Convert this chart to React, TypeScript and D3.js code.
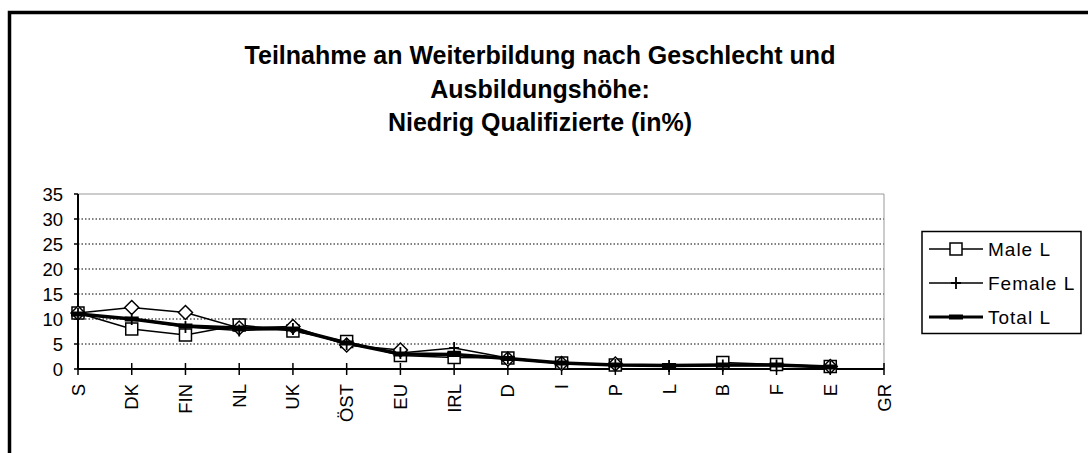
import React from 'react';
import * as d3 from 'd3';

const width = 1088;
const height = 453;

const categories = ['S', 'DK', 'FIN', 'NL', 'UK', 'ÖST', 'EU', 'IRL', 'D', 'I', 'P', 'L', 'B', 'F', 'E', 'GR'];
const maleL = [11.2, 8.0, 6.8, 8.8, 7.6, 5.5, 2.7, 2.3, 2.2, 1.2, 0.8, null, 1.3, 0.9, 0.5, null];
const femaleL = [11.0, 10.0, 8.4, 7.7, 8.0, 5.0, 3.2, 4.2, 2.2, 1.2, 0.8, 0.6, 0.7, 0.7, 0.4, null];
const totalL = [11.0, 10.0, 8.6, 8.2, 8.0, 5.2, 3.0, 2.9, 2.1, 1.2, 0.8, 0.7, 0.8, 0.8, 0.4, null];
// diamond series, no legend entry in the original
const otherL = [11.2, 12.3, 11.3, 8.2, 8.5, 4.8, 3.8, null, 2.0, 1.1, 1.0, null, null, null, 0.5, null];
const yTicks = [0, 5, 10, 15, 20, 25, 30, 35];
const titleLines = ['Teilnahme an Weiterbildung nach Geschlecht und', 'Ausbildungshöhe:', 'Niedrig Qualifizierte (in%)'];

const font = 'Liberation Sans, Arial, sans-serif';

const x = d3.scalePoint<string>().domain(categories).range([78, 884]);
const y = d3.scaleLinear().domain([0, 35]).range([369, 194]);

const lineFor = (vals: (number | null)[]) =>
  d3.line<number | null>()
    .defined((d) => d != null)
    .x((_, i) => x(categories[i]) as number)
    .y((d) => y(d as number))(vals) || '';

const Square = ({ cx, cy }: { cx: number; cy: number }) => (
  <rect x={cx - 6} y={cy - 6} width={12} height={12} fill="#fff" stroke="#000" strokeWidth={1.5} />
);
const Plus = ({ cx, cy }: { cx: number; cy: number }) => (
  <path d={`M${cx},${cy - 6}V${cy + 6}M${cx - 5},${cy}H${cx + 5}`} stroke="#000" strokeWidth={1.8} />
);
const Diamond = ({ cx, cy }: { cx: number; cy: number }) => (
  <path d={`M${cx},${cy - 7}L${cx + 7},${cy}L${cx},${cy + 7}L${cx - 7},${cy}Z`} fill="#fff" stroke="#000" strokeWidth={1.5} />
);
const Dash = ({ cx, cy }: { cx: number; cy: number }) => (
  <rect x={cx - 7} y={cy - 2.5} width={14} height={5} fill="#000" />
);

const markers = (vals: (number | null)[], M: any, key: string) =>
  vals.map((d, i) => (d == null ? null : <M key={key + i} cx={x(categories[i]) as number} cy={y(d)} />));

const legendItems = [
  { name: 'Male L', M: Square, w: 1.5 },
  { name: 'Female L', M: Plus, w: 1.5 },
  { name: 'Total L', M: Dash, w: 3 },
];

export default function App() {
  return (
    <svg width={width} height={height} style={{ position: 'absolute', left: 0, top: 0, background: '#fff' }} fontFamily={font}>
      <rect width={width} height={height} fill="#fff" />
      {/* outer frame */}
      <path d={`M9.5,${height + 5}V12.5H${width + 5}`} fill="none" stroke="#000" strokeWidth={3.5} />

      {titleLines.map((t, i) => (
        <text key={t} x={540} y={64 + i * 33.5} textAnchor="middle" fontSize={25} fontWeight="bold">{t}</text>
      ))}

      {/* grid */}
      {yTicks.filter((t) => t > 0 && t < 35).map((t) => (
        <line key={t} x1={78} x2={884} y1={y(t)} y2={y(t)} stroke="#000" strokeWidth={1} strokeDasharray="1.5,2" />
      ))}
      <path d={`M78,${y(35)}H884V${y(0)}`} fill="none" stroke="#999" strokeWidth={1} />

      {/* y axis */}
      <line x1={78} x2={78} y1={y(35)} y2={y(0)} stroke="#000" strokeWidth={2} />
      {yTicks.map((t) => (
        <g key={t}>
          <line x1={74} x2={78} y1={y(t)} y2={y(t)} stroke="#000" strokeWidth={1.5} />
          <text x={63} y={y(t) + 6.5} textAnchor="end" fontSize={18.5}>{t}</text>
        </g>
      ))}

      {/* x axis */}
      <line x1={78} x2={884} y1={y(0)} y2={y(0)} stroke="#000" strokeWidth={2} />
      {categories.map((c) => (
        <g key={c} transform={`translate(${x(c)},${y(0)})`}>
          <line y1={-6} y2={6} stroke="#000" strokeWidth={1.5} />
          <text transform="rotate(-90)" x={-15} y={6.5} textAnchor="end" fontSize={18.5}>{c}</text>
        </g>
      ))}

      {/* series */}
      <path d={lineFor(maleL)} fill="none" stroke="#000" strokeWidth={1.5} />
      <path d={lineFor(femaleL)} fill="none" stroke="#000" strokeWidth={1.5} />
      <path d={lineFor(otherL)} fill="none" stroke="#000" strokeWidth={1.5} />
      <path d={lineFor(totalL)} fill="none" stroke="#000" strokeWidth={3.5} />
      {markers(maleL, Square, 'm')}
      {markers(otherL, Diamond, 'o')}
      {markers(femaleL, Plus, 'f')}
      {markers(totalL, Dash, 't')}

      {/* legend */}
      <rect x={922} y={231.5} width={159} height={102} fill="#fff" stroke="#000" strokeWidth={1.5} />
      {legendItems.map((it, i) => {
        const ly = 249 + i * 34;
        const M = it.M;
        return (
          <g key={it.name}>
            <line x1={929} x2={983} y1={ly} y2={ly} stroke="#000" strokeWidth={it.w} />
            <M cx={956} cy={ly} />
            <text x={988} y={ly + 7} fontSize={19} letterSpacing={1}>{it.name}</text>
          </g>
        );
      })}
    </svg>
  );
}
